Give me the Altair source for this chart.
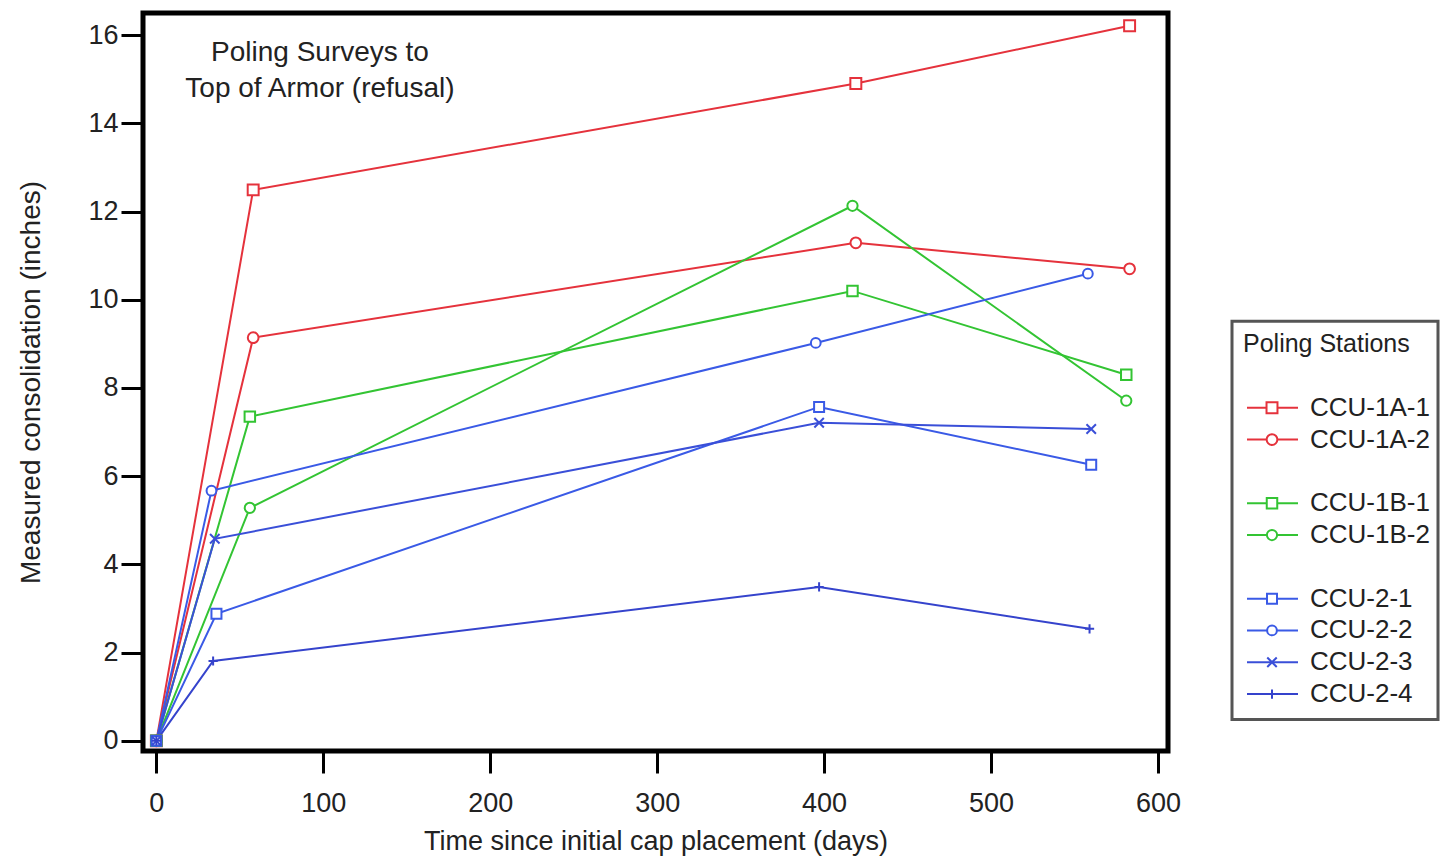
import altair as alt
import pandas as pd

FONT = "Liberation Sans"

series = ["CCU-1A-1", "CCU-1A-2", "CCU-1B-1", "CCU-1B-2",
          "CCU-2-1", "CCU-2-2", "CCU-2-3", "CCU-2-4"]

days_1a1 = [0, 58, 419, 583]
vals_1a1 = [0, 12.49, 14.90, 16.21]
days_1a2 = [0, 58, 419, 583]
vals_1a2 = [0, 9.14, 11.29, 10.70]
days_1b1 = [0, 56, 417, 581]
vals_1b1 = [0, 7.35, 10.20, 8.30]
days_1b2 = [0, 56, 417, 581]
vals_1b2 = [0, 5.28, 12.13, 7.71]
days_21 = [0, 36, 397, 560]
vals_21 = [0, 2.88, 7.57, 6.26]
days_22 = [0, 33, 395, 558]
vals_22 = [0, 5.67, 9.02, 10.59]
days_23 = [0, 35, 397, 560]
vals_23 = [0, 4.58, 7.21, 7.07]
days_24 = [0, 34, 397, 559]
vals_24 = [0, 1.81, 3.49, 2.54]

all_days = [days_1a1, days_1a2, days_1b1, days_1b2, days_21, days_22, days_23, days_24]
all_vals = [vals_1a1, vals_1a2, vals_1b1, vals_1b2, vals_21, vals_22, vals_23, vals_24]

colors = ["#e5323c", "#e5323c", "#33c433", "#33c433",
          "#3a5ae6", "#3a5ae6", "#3a4fd8", "#3543cc"]
shapes = ["square", "circle", "square", "circle", "square", "circle",
          "M-1,-1L1,1M-1,1L1,-1", "M-1,0L1,0M0,-1L0,1"]
sizes = [120, 85, 120, 85, 120, 85, 85, 140]

legend_rows = [2, 3, 5, 6, 8, 9, 10, 11]
legend_title = "Poling Stations"
annotation = ["Poling Surveys to", "Top of Armor (refusal)"]
x_ticks = [0, 100, 200, 300, 400, 500, 600]
y_ticks = [0, 2, 4, 6, 8, 10, 12, 14, 16]

rows = []
for s, ds, vs in zip(series, all_days, all_vals):
    for d, v in zip(ds, vs):
        rows.append({"series": s, "days": d, "value": v})
df = pd.DataFrame(rows)

color_scale = alt.Scale(domain=series, range=colors)
shape_scale = alt.Scale(domain=series, range=shapes)
size_scale = alt.Scale(domain=series, range=sizes)

x_enc = alt.X("days:Q", scale=alt.Scale(domain=[-8, 606], nice=False, zero=False),
              axis=alt.Axis(values=x_ticks, title="Time since initial cap placement (days)",
                            grid=False, domain=False, tickSize=22, tickWidth=3, tickColor="black",
                            labelPadding=17, titlePadding=12, labelFontSize=27, titleFontSize=27,
                            labelFont=FONT, titleFont=FONT, labelColor="#222", titleColor="#222",
                            titleFontWeight="normal"))
y_enc = alt.Y("value:Q", scale=alt.Scale(domain=[-0.23, 16.5], nice=False, zero=False),
              axis=alt.Axis(values=y_ticks, title="Measured consolidation (inches)",
                            grid=False, domain=False, tickSize=22, tickWidth=3, tickColor="black",
                            labelPadding=3, titlePadding=42, labelFontSize=27, titleFontSize=28,
                            labelFont=FONT, titleFont=FONT, labelColor="#222", titleColor="#222",
                            titleFontWeight="normal"))

base = alt.Chart(df)
lines = base.mark_line(strokeWidth=2).encode(
    x=x_enc, y=y_enc,
    color=alt.Color("series:N", scale=color_scale, legend=None),
    detail="series:N",
)
points = base.mark_point(strokeWidth=2, fill="white", fillOpacity=1, opacity=1).encode(
    x="days:Q", y="value:Q",
    color=alt.Color("series:N", scale=color_scale, legend=None),
    shape=alt.Shape("series:N", scale=shape_scale, legend=None),
    size=alt.Size("series:N", scale=size_scale, legend=None),
)

ann_df = pd.DataFrame({"text": annotation, "days": [98, 98], "value": [15.6, 14.78]})
ann = alt.Chart(ann_df).mark_text(font=FONT, fontSize=28, color="#222", align="center",
                                  baseline="middle").encode(
    x="days:Q", y="value:Q", text="text:N")

main = alt.layer(lines, points, ann).properties(
    width=1025, height=738,
    view=alt.ViewBackground(stroke="black", strokeWidth=5),
)

# Legend panel
LW = 206
leg_df = pd.DataFrame({"series": series, "row": legend_rows})
ly = alt.Scale(domain=[-10.41, 12.79], reverse=True, nice=False, zero=False)
lx = alt.Scale(domain=[0, LW], nice=False, zero=False)
box_df = pd.DataFrame({"x0": [0], "x1": [LW], "r0": [-0.72], "r1": [11.8]})
box = alt.Chart(box_df).mark_rect(fill="white", stroke="#555", strokeWidth=3).encode(
    x=alt.X("x0:Q", scale=lx, axis=None), x2="x1:Q",
    y=alt.Y("r0:Q", scale=ly, axis=None), y2="r1:Q")
title_df = pd.DataFrame({"text": [legend_title], "x": [11], "row": [0]})
ltitle = alt.Chart(title_df).mark_text(font=FONT, fontSize=25, color="#222", align="left",
                                       baseline="middle").encode(
    x=alt.X("x:Q", scale=lx, axis=None), y=alt.Y("row:Q", scale=ly, axis=None), text="text:N")
lbase = alt.Chart(leg_df).transform_calculate(x0="15", x1="66", xm="40", xt="78")
lrule = lbase.mark_rule(strokeWidth=2).encode(
    x=alt.X("x0:Q", scale=lx, axis=None), x2="x1:Q",
    y=alt.Y("row:Q", scale=ly, axis=None),
    color=alt.Color("series:N", scale=color_scale, legend=None))
lpt = lbase.mark_point(strokeWidth=2, fill="white", fillOpacity=1, opacity=1).encode(
    x=alt.X("xm:Q", scale=lx, axis=None), y=alt.Y("row:Q", scale=ly, axis=None),
    color=alt.Color("series:N", scale=color_scale, legend=None),
    shape=alt.Shape("series:N", scale=shape_scale, legend=None),
    size=alt.Size("series:N", scale=size_scale, legend=None))
ltext = lbase.mark_text(font=FONT, fontSize=26, color="#222", align="left",
                        baseline="middle").encode(
    x=alt.X("xt:Q", scale=lx, axis=None), y=alt.Y("row:Q", scale=ly, axis=None),
    text="series:N")
legend = alt.layer(box, ltitle, lrule, lpt, ltext).properties(
    width=LW, height=738, view=alt.ViewBackground(stroke=None))

chart = alt.hconcat(main, legend, spacing=64, bounds="flush").resolve_scale(
    x="independent", y="independent", color="shared", shape="shared", size="shared"
).properties(padding={"left": 7, "top": 2, "right": 0, "bottom": 0}).configure(
    background="white"
)

chart.save("out.html", embed_options={"renderer": "svg", "actions": False})
